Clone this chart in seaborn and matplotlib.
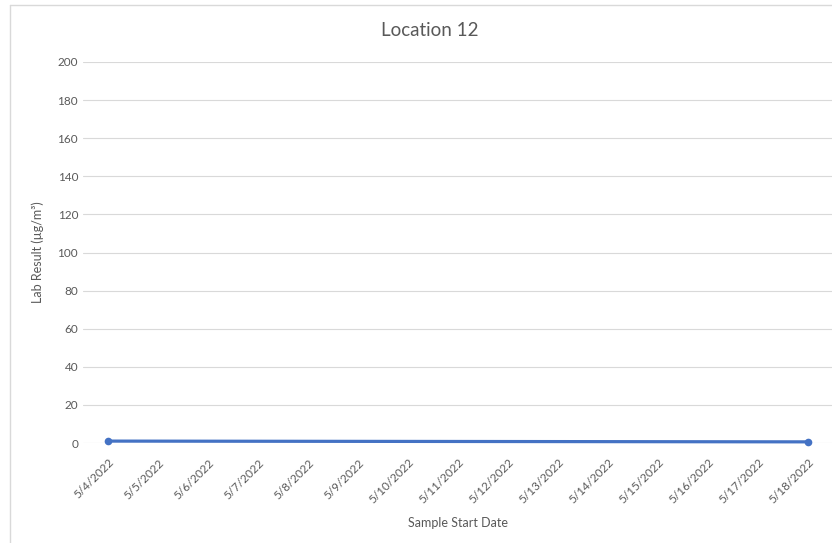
import matplotlib
matplotlib.use("Agg")
import matplotlib.pyplot as plt
import seaborn as sns
import pandas as pd
from matplotlib.lines import Line2D

categories = ["5/4/2022", "5/5/2022", "5/6/2022", "5/7/2022", "5/8/2022", "5/9/2022",
              "5/10/2022", "5/11/2022", "5/12/2022", "5/13/2022", "5/14/2022",
              "5/15/2022", "5/16/2022", "5/17/2022", "5/18/2022"]
sample_dates = ["5/4/2022", "5/18/2022"]
lab_results = [1.0, 0.6]
title = "Location 12"
y_ticks = [0, 20, 40, 60, 80, 100, 120, 140, 160, 180, 200]

sns.set_theme(style="white")
plt.rcParams['font.family'] = ['Lato', 'DejaVu Sans']

df = pd.DataFrame({"date": pd.to_datetime(sample_dates, format="%m/%d/%Y"),
                   "value": lab_results})
cat_dates = pd.to_datetime(categories, format="%m/%d/%Y")

fig = plt.figure(figsize=(8.32, 5.43), dpi=100)
ax = fig.add_axes([83/832, 100/543, 750/832, 381/543])

sns.lineplot(data=df, x="date", y="value", ax=ax, color="#4472C4", linewidth=2.3,
             marker="o", markersize=5.5, markeredgewidth=0, zorder=3)
for ln in ax.lines:
    ln.set_clip_on(False)

ax.set_xlim(cat_dates[0] - pd.Timedelta(hours=12), cat_dates[-1] + pd.Timedelta(hours=12))
ax.set_ylim(0, 200)
ax.set_yticks(y_ticks)
ax.yaxis.grid(True, color="#D9D9D9", linewidth=0.8)
ax.set_axisbelow(True)
ax.set_xticks(cat_dates)
ax.set_xticklabels(categories, rotation=45, ha="right", va="top", rotation_mode="anchor",
                   fontsize=8.5, color="#595959")
for lab in ax.get_yticklabels():
    lab.set_fontsize(8.5)
    lab.set_color("#595959")
ax.tick_params(axis="y", length=0, pad=3.5)
ax.tick_params(axis="x", length=0, pad=10)
for s in ax.spines.values():
    s.set_visible(False)
ax.set_xlabel("Sample Start Date", fontsize=9, color="#595959", labelpad=8)
ax.set_ylabel("Lab Result (µg/m³)", fontsize=9, color="#595959", labelpad=10)
fig.text(430/832, 1 - 31/543, title, fontsize=13.5, color="#595959", ha="center", va="center")

# chart frame
fig.add_artist(Line2D([9.5/832, 9.5/832], [0, 1 - 5/543], transform=fig.transFigure,
                      color="#D9D9D9", linewidth=1))
fig.add_artist(Line2D([9.5/832, 1], [1 - 5/543, 1 - 5/543], transform=fig.transFigure,
                      color="#D9D9D9", linewidth=1))

fig.savefig("out.png", dpi=100)
